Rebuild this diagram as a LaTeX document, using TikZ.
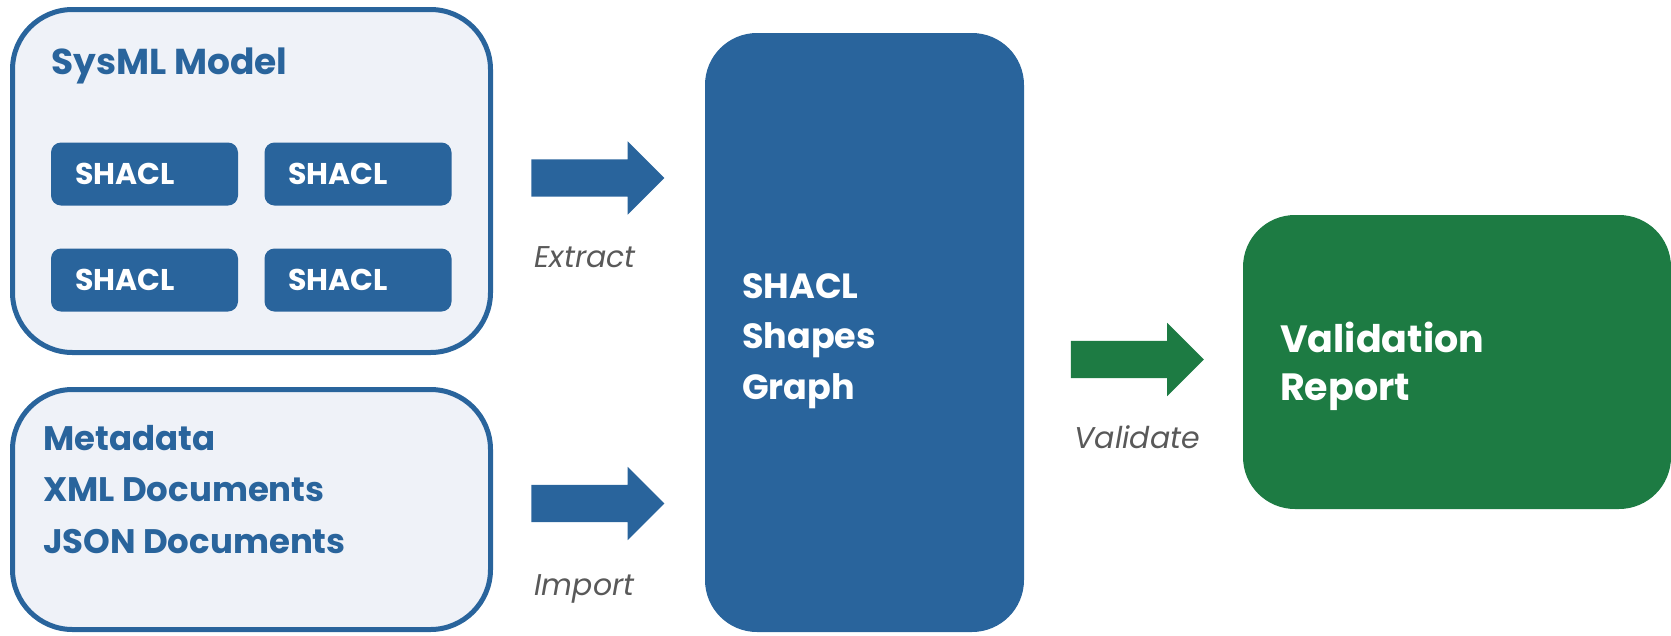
\documentclass[tikz,border=0pt]{standalone}
\usepackage{fontspec}
\setmainfont{Poppins}
\usetikzlibrary{shapes.arrows}
\definecolor{shblue}{RGB}{41,100,156}
\definecolor{shlight}{RGB}{239,242,248}
\definecolor{shgreen}{RGB}{29,123,67}
\definecolor{shgray}{RGB}{89,89,89}
\tikzset{
  panel/.style={draw=shblue, line width=5pt, fill=shlight, rounded corners=60pt},
  shapebox/.style={fill=shblue, text=white, rounded corners=10pt, minimum width=187pt,
    minimum height=63pt, text width=139pt, inner xsep=24pt, align=left,
    font=\bfseries\fontsize{30}{36}\selectfont},
  bigbox/.style={rounded corners=52pt},
  bigtext/.style={anchor=base west, text=white, align=left, inner sep=0pt},
  fatarrow/.style={single arrow, fill=#1, minimum height=133pt, minimum width=73pt,
    inner xsep=0pt, inner ysep=18.5pt, single arrow head extend=18pt,
    single arrow head indent=0pt},
  steplabel/.style={anchor=base west, text=shgray, font=\itshape\fontsize{30}{36}\selectfont},
}
\begin{document}
\begin{tikzpicture}[x=1pt, y=-1pt]
  \useasboundingbox (0,0) rectangle (1671,635);
  % left side: sources
  \node[panel, minimum width=478pt, minimum height=343pt] (sysml) at (251.5,181) {};
  \node[anchor=base west, text=shblue, font=\bfseries\fontsize{36}{50}\selectfont]
    (sysmltitle) at (48,74) {SysML Model};
  \node[shapebox] (shA) at (144.5,174) {SHACL};
  \node[shapebox] (shB) at (358,174) {SHACL};
  \node[shapebox] (shC) at (144.5,280) {SHACL};
  \node[shapebox] (shD) at (358,280) {SHACL};
  \node[panel, minimum width=478pt, minimum height=240pt] (meta) at (251.5,509.5) {};
  \node[anchor=base west, text=shblue, align=left, inner sep=0pt,
    font=\bfseries\fontsize{34}{51.5}\selectfont] (metatext) at (43,553)
    {Metadata\\XML Documents\\JSON Documents};
  % middle: shapes graph
  \node[bigbox, fill=shblue, minimum width=319pt, minimum height=599pt] (graph)
    at (864.5,332.5) {};
  \node[bigtext, font=\bfseries\fontsize{35}{50.5}\selectfont] (graphtext)
    at (742,399) {SHACL\\Shapes\\Graph};
  % right: report
  \node[bigbox, fill=shgreen, minimum width=428pt, minimum height=294pt] (report)
    at (1457,362) {};
  \node[bigtext, font=\bfseries\fontsize{38}{48}\selectfont] (reporttext)
    at (1280,400) {Validation\\Report};
  % arrows
  \node[fatarrow=shblue] (extract) at (588.5,178) {};
  \node[fatarrow=shblue] (import) at (588.5,503.5) {};
  \node[fatarrow=shgreen] (validate) at (1128,359.5) {};
  \node[steplabel] (extractlabel) at (531,267) {Extract};
  \node[steplabel] (importlabel) at (531,595) {Import};
  \node[steplabel] (validatelabel) at (1071,448) {Validate};
\end{tikzpicture}
\end{document}
